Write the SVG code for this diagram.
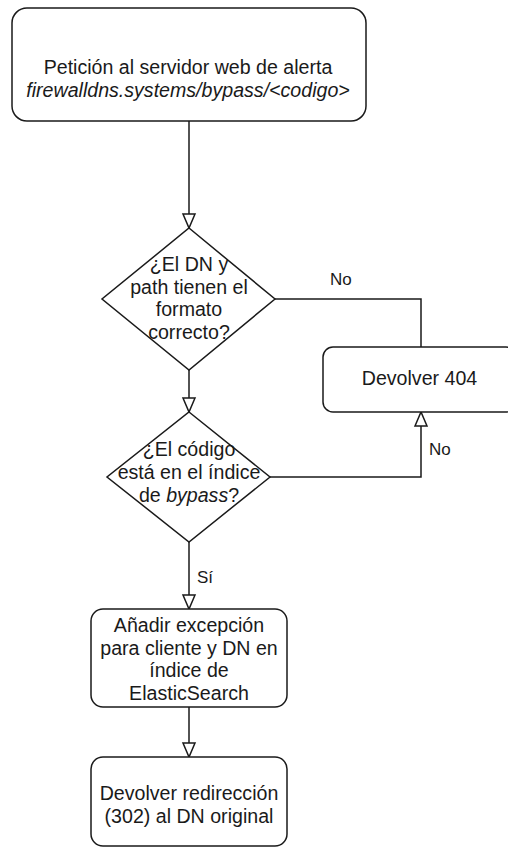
<svg xmlns="http://www.w3.org/2000/svg" width="508" height="850" viewBox="0 0 508 850">
<style>
  .shape { fill: #ffffff; stroke: #1a1a1a; stroke-width: 1.5; }
  .conn { fill: none; stroke: #1a1a1a; stroke-width: 1.5; }
  .t { font-family: "Liberation Sans", Arial, sans-serif; font-size: 19.6px; fill: #1a1a1a; text-anchor: middle; }
  .lbl { font-family: "Liberation Sans", Arial, sans-serif; font-size: 17px; fill: #1a1a1a; }
  .it { font-style: italic; }
</style>
<defs>
  <marker id="arrow" markerUnits="userSpaceOnUse" markerWidth="16" markerHeight="14" refX="14" refY="6" orient="auto" overflow="visible">
    <path d="M0,0 L14,6 L0,12 Z" fill="#ffffff" stroke="#1a1a1a" stroke-width="1.5"/>
  </marker>
</defs>
<rect width="508" height="850" fill="#ffffff"/>

<g id="connectors">
  <path class="conn" d="M189,121 V228" marker-end="url(#arrow)"/>
  <path class="conn" d="M189,370 V412" marker-end="url(#arrow)"/>
  <path class="conn" d="M275,299 H421 V347"/>
  <path class="conn" d="M270,477 H421 V412" marker-end="url(#arrow)"/>
  <path class="conn" d="M189,542 V609" marker-end="url(#arrow)"/>
  <path class="conn" d="M189,707 V757" marker-end="url(#arrow)"/>
  <text class="lbl" x="330" y="285">No</text>
  <text class="lbl" x="429" y="455">No</text>
  <text class="lbl" x="197" y="583">Sí</text>
</g>

<g id="start">
  <rect class="shape" x="12" y="8" width="354" height="113" rx="15"/>
  <text class="t" x="188" y="74">Petición al servidor web de alerta</text>
  <text class="t it" x="188" y="97">firewalldns.systems/bypass/&lt;codigo&gt;</text>
</g>

<g id="check-format">
  <polygon class="shape" points="189,228 275,299 189,370 102,299"/>
  <text class="t" x="189" y="271">¿El DN y</text>
  <text class="t" x="189" y="293.5">path tienen el</text>
  <text class="t" x="189" y="316">formato</text>
  <text class="t" x="189" y="338.5">correcto?</text>
</g>

<g id="return-404">
  <rect class="shape" x="323" y="347" width="193" height="65" rx="10"/>
  <text class="t" x="419.5" y="385">Devolver 404</text>
</g>

<g id="check-code">
  <polygon class="shape" points="189,412 270,477 189,542 107,477"/>
  <text class="t" x="189" y="456">¿El código</text>
  <text class="t" x="189" y="479">está en el índice</text>
  <text class="t" x="189" y="502">de <tspan class="it">bypass</tspan>?</text>
</g>

<g id="add-exception">
  <rect class="shape" x="91" y="609" width="196" height="98" rx="12"/>
  <text class="t" x="189" y="632">Añadir excepción</text>
  <text class="t" x="189" y="654.7">para cliente y DN en</text>
  <text class="t" x="189" y="677.3">índice de</text>
  <text class="t" x="189" y="700">ElasticSearch</text>
</g>

<g id="redirect">
  <rect class="shape" x="91" y="757" width="196" height="89" rx="12"/>
  <text class="t" x="189" y="800">Devolver redirección</text>
  <text class="t" x="189" y="823">(302) al DN original</text>
</g>
</svg>
